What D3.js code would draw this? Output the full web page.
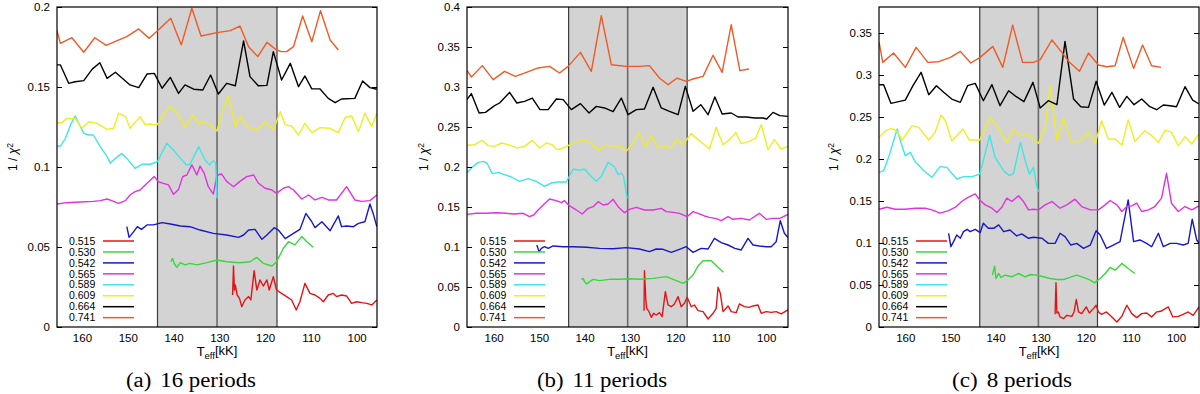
<!DOCTYPE html>
<html>
<head>
<meta charset="utf-8" />
<title>1/chi2 versus Teff</title>
<script src="https://d3js.org/d3.v7.min.js"></script>
<style>
    body {
        margin: 0;
        background-color: #ffffff;
    }

    text {
        font-family: "Liberation Sans", Arial, Helvetica, sans-serif;
        fill: #000;
    }

    .caption {
        font-family: "Liberation Serif", "Times New Roman", serif;
        font-size: 20.5px;
    }

    .tick line {
        stroke: #000;
        shape-rendering: crispEdges;
    }

    .axis path {
        display: none;
    }
</style>
</head>

<body>
<svg id="chart" width="1200" height="394"></svg>

<script>
    // legend labels (stellar masses) and line colours
    var masses = ["0.515", "0.530", "0.542", "0.565", "0.589", "0.609", "0.664", "0.741"];
    var colors = ["#e41414", "#38d838", "#1818c8", "#e032e0", "#3ee6e6", "#eeee22", "#000000", "#f05a24"];

    var xTicks = [160, 150, 140, 130, 120, 110, 100];
    var yTicksA = [0, 0.05, 0.1, 0.15, 0.2];
    var yTicksB = [0, 0.05, 0.1, 0.15, 0.2, 0.25, 0.3, 0.35, 0.4];
    var yTicksC = [0, 0.05, 0.1, 0.15, 0.2, 0.25, 0.3, 0.35];

    // shaded Teff window and the line inside it
    var band = [143.5, 117.4];
    var midLine = 130.5;

    // ---- (a) 16 periods : [Teff kK, 1/chi2]
    var a515 = [[127.1,.0200],[126.9,.0381],[126.7,.0231],[126.5,.0263],[126.1,.0200],[125.6,.0179],[125.1,.0127],[124.4,.0169],[123.6,.0190],[123.1,.0169],[122.4,.0352],[121.8,.0231],[121.1,.0294],[120.4,.0256],[119.6,.0294],[119.1,.0231],[118.2,.0315],[117.5,.0231],[116.4,.0210],[115.3,.0190],[114.2,.0169],[113.2,.0106],[112.4,.0158],[111.3,.0273],[110.2,.0210],[109.1,.0200],[108.0,.0179],[107.3,.0158],[106.2,.0200],[105.1,.0210],[104.4,.0190],[103.3,.0200],[102.2,.0194],[101.1,.0148],[100.0,.0158],[98.9,.0152],[97.8,.0148],[96.7,.0138],[95.6,.0169]];
    var a530 = [[140.6,.0408],[140.2,.0429],[139.8,.0394],[139.3,.0373],[138.5,.0402],[137.5,.0388],[136.4,.0398],[134.9,.0388],[132.7,.0402],[130.5,.0419],[128.4,.0408],[125.5,.0402],[123.3,.0408],[121.8,.0435],[120.4,.0398],[118.5,.0381],[117.5,.0408],[116.0,.0492],[114.9,.0533],[113.5,.0513],[112.0,.0565],[110.9,.0533],[109.5,.0498]];
    var a542 = [[150.2,.0627],[149.7,.0560],[148.7,.0596],[147.9,.0627],[147.0,.0610],[145.8,.0638],[144.4,.0638],[142.5,.0652],[140.7,.0644],[138.5,.0631],[136.4,.0627],[134.2,.0606],[131.3,.0585],[128.4,.0575],[125.8,.0560],[124.7,.0575],[123.6,.0606],[122.2,.0610],[120.7,.0548],[119.6,.0575],[118.0,.0621],[117.1,.0606],[115.6,.0552],[113.8,.0585],[112.4,.0610],[111.1,.0710],[109.8,.0658],[109.1,.0621],[107.6,.0658],[105.8,.0602],[104.0,.0694],[103.3,.0627],[102.2,.0631],[100.7,.0627],[99.6,.0648],[98.2,.0658],[97.1,.0769],[96.4,.0710],[95.6,.0627]];
    var a565 = [[165.5,.0769],[163.3,.0777],[160.4,.0781],[157.5,.0785],[156.0,.0790],[154.5,.0800],[153.5,.0790],[152.0,.0773],[150.5,.0790],[149.5,.0825],[148.4,.0846],[147.3,.0856],[145.8,.0898],[144.2,.0940],[143.3,.0908],[142.2,.0898],[141.1,.0888],[140.0,.0829],[138.9,.0860],[138.0,.0940],[137.1,.0950],[136.0,.1013],[134.9,.0950],[134.2,.1006],[133.3,.0960],[132.4,.0877],[131.3,.0830],[130.5,.0950],[129.5,.0956],[128.4,.0910],[126.9,.0877],[125.5,.0910],[124.0,.0940],[122.5,.0950],[121.5,.0900],[120.0,.0867],[118.5,.0856],[117.5,.0835],[116.0,.0867],[114.9,.0877],[113.8,.0856],[112.0,.0800],[110.5,.0825],[109.1,.0794],[107.6,.0810],[106.2,.0794],[104.4,.0794],[102.2,.0877],[100.4,.0794],[98.9,.0785],[97.1,.0790],[95.6,.0825]];
    var a589 = [[165.5,.1131],[164.7,.1131],[163.6,.1179],[162.5,.1263],[161.5,.1319],[159.6,.1210],[158.5,.1200],[157.5,.1200],[156.0,.1127],[154.5,.1065],[153.8,.1023],[152.7,.1054],[151.3,.1085],[150.2,.1054],[148.4,.0992],[146.9,.1017],[145.1,.1017],[143.5,.1033],[141.5,.1148],[140.0,.1106],[138.5,.1054],[137.2,.1013],[136.4,.1017],[134.5,.1127],[133.1,.1044],[132.1,.1013],[131.3,.1040],[130.8,.1023],[130.5,.0804]];
    var a609 = [[165.5,.1277],[164.4,.1277],[163.3,.1304],[161.5,.1304],[160.0,.1242],[158.5,.1283],[156.7,.1273],[154.5,.1235],[153.1,.1242],[152.0,.1336],[150.5,.1315],[149.5,.1242],[148.4,.1279],[147.3,.1315],[146.2,.1263],[145.1,.1269],[143.6,.1263],[142.2,.1325],[140.9,.1377],[139.3,.1346],[137.5,.1246],[135.8,.1325],[134.5,.1269],[133.5,.1283],[132.0,.1263],[130.5,.1225],[129.5,.1336],[128.0,.1444],[126.5,.1252],[125.5,.1319],[124.0,.1252],[121.8,.1231],[120.0,.1283],[118.2,.1231],[116.7,.1346],[115.6,.1263],[114.2,.1256],[112.7,.1200],[111.3,.1273],[109.8,.1215],[108.0,.1246],[105.8,.1242],[104.0,.1215],[102.5,.1311],[101.1,.1319],[99.6,.1221],[98.2,.1336],[96.7,.1252],[95.6,.1336]];
    var a664 = [[165.5,.1638],[164.7,.1638],[162.9,.1523],[161.5,.1533],[159.6,.1540],[157.8,.1610],[156.1,.1652],[154.5,.1554],[152.7,.1592],[149.5,.1513],[147.6,.1496],[145.8,.1581],[144.2,.1585],[142.5,.1492],[140.7,.1560],[138.9,.1460],[137.5,.1513],[135.6,.1486],[133.6,.1481],[131.9,.1575],[130.2,.1456],[128.4,.1523],[126.5,.1508],[124.7,.1788],[123.3,.1565],[121.5,.1508],[119.6,.1510],[118.2,.1721],[116.4,.1544],[114.5,.1648],[112.7,.1502],[111.3,.1569],[109.8,.1488],[108.0,.1488],[106.2,.1429],[104.7,.1402],[103.3,.1425],[100.4,.1429],[98.7,.1538],[97.1,.1496],[95.6,.1486]];
    var a741 = [[165.5,.1856],[164.7,.1773],[162.2,.1808],[159.6,.1717],[157.2,.1808],[154.7,.1760],[152.7,.1785],[150.2,.1815],[147.6,.1863],[145.3,.1804],[143.5,.1852],[140.6,.1929],[138.3,.1763],[136.0,.1992],[134.0,.1819],[130.5,.1840],[127.6,.1852],[125.5,.1881],[123.6,.1752],[121.6,.1690],[119.6,.1779],[117.5,.1731],[116.4,.1721],[115.3,.1721],[113.8,.1752],[111.8,.1944],[109.8,.1783],[107.9,.1977],[105.8,.1794],[104.0,.1731]];

    // ---- (b) 11 periods
    var b515 = [[126.9,.0204],[126.8,.0704],[126.5,.0338],[126.3,.0233],[125.8,.0192],[125.3,.0121],[124.8,.0171],[124.2,.0150],[123.5,.0179],[122.9,.0129],[122.2,.0442],[121.6,.0275],[120.9,.0254],[120.2,.0288],[119.4,.0379],[118.7,.0254],[118.0,.0296],[117.4,.0371],[116.5,.0254],[115.8,.0275],[115.0,.0204],[113.9,.0192],[112.8,.0100],[111.7,.0171],[111.0,.0233],[110.6,.0496],[110.1,.0421],[109.5,.0192],[108.4,.0263],[107.7,.0192],[106.6,.0179],[105.9,.0288],[104.8,.0254],[103.8,.0246],[102.9,.0263],[101.8,.0275],[101.1,.0171],[100.0,.0192],[98.9,.0183],[97.8,.0192],[96.7,.0163],[95.2,.0213]];
    var b530 = [[140.7,.0596],[140.3,.0608],[140.0,.0567],[139.5,.0538],[138.9,.0567],[138.1,.0596],[136.7,.0579],[134.5,.0596],[132.3,.0596],[130.1,.0604],[127.9,.0596],[124.9,.0608],[122.0,.0629],[119.8,.0579],[118.3,.0546],[117.2,.0588],[116.1,.0650],[115.0,.0763],[113.9,.0829],[112.1,.0829],[110.6,.0746],[109.4,.0683]];
    var b542 = [[150.5,.1025],[150.0,.0942],[149.5,.0983],[148.8,.1004],[148.0,.0983],[146.9,.1013],[144.7,.1004],[142.5,.1004],[139.6,.0996],[136.7,.0983],[133.7,.0979],[130.8,.0992],[127.9,.0975],[125.7,.0942],[124.2,.0975],[122.7,.0971],[120.9,.0933],[119.1,.0971],[117.6,.1004],[116.1,.0933],[114.3,.0983],[112.8,.0975],[111.4,.1108],[109.9,.1054],[108.4,.1025],[106.9,.0983],[105.5,.0963],[104.0,.1108],[102.9,.1025],[101.5,.1013],[100.0,.1004],[98.9,.1004],[97.8,.1067],[96.9,.1329],[96.0,.1171],[95.2,.1117]];
    var b565 = [[165.9,.1408],[163.8,.1421],[161.6,.1421],[159.4,.1429],[157.2,.1421],[155.4,.1413],[153.5,.1421],[152.1,.1379],[151.2,.1400],[150.2,.1463],[149.1,.1525],[147.7,.1600],[146.2,.1579],[145.1,.1554],[144.4,.1579],[143.3,.1513],[141.8,.1463],[140.5,.1413],[139.2,.1483],[138.1,.1504],[137.0,.1567],[135.9,.1525],[134.8,.1538],[133.7,.1596],[132.6,.1504],[131.2,.1429],[130.1,.1471],[128.6,.1496],[126.8,.1463],[124.9,.1463],[123.1,.1483],[122.0,.1442],[120.5,.1433],[119.1,.1421],[117.4,.1379],[116.1,.1442],[115.0,.1421],[113.6,.1388],[112.5,.1371],[111.0,.1354],[109.9,.1329],[108.4,.1379],[107.3,.1346],[105.5,.1358],[103.7,.1338],[101.5,.1421],[100.0,.1346],[98.5,.1358],[97.0,.1358],[95.2,.1408]];
    var b589 = [[165.9,.1925],[164.5,.2008],[163.4,.2058],[162.3,.2071],[161.5,.2050],[160.3,.1917],[159.0,.1933],[157.6,.1904],[156.1,.1875],[154.3,.1821],[152.4,.1854],[150.6,.1821],[148.8,.1758],[147.3,.1800],[145.8,.1813],[144.0,.1813],[142.5,.1975],[141.1,.1958],[140.0,.1975],[138.9,.1904],[137.4,.1821],[136.3,.1883],[134.8,.2058],[133.4,.2000],[132.6,.1904],[131.9,.1925],[131.4,.1880],[130.6,.1608]];
    var b609 = [[165.9,.2271],[164.2,.2279],[162.5,.2333],[161.2,.2267],[159.8,.2258],[158.3,.2300],[156.8,.2279],[154.9,.2238],[153.2,.2258],[151.5,.2333],[149.9,.2238],[148.4,.2300],[147.1,.2279],[146.1,.2217],[144.7,.2238],[143.6,.2267],[142.2,.2308],[140.3,.2342],[138.5,.2300],[137.0,.2208],[135.9,.2258],[134.5,.2267],[132.3,.2258],[130.8,.2196],[129.3,.2300],[128.0,.2425],[126.5,.2258],[125.3,.2392],[123.8,.2238],[122.1,.2258],[120.9,.2238],[119.6,.2350],[118.3,.2279],[117.4,.2350],[116.5,.2417],[115.0,.2342],[113.6,.2279],[112.5,.2225],[111.0,.2496],[109.5,.2279],[108.1,.2342],[106.7,.2433],[105.5,.2292],[103.7,.2321],[102.3,.2363],[101.1,.2529],[99.6,.2217],[98.2,.2342],[96.7,.2225],[95.2,.2258]];
    var b664 = [[165.9,.2842],[164.9,.2917],[163.2,.2675],[161.8,.2683],[159.8,.2767],[158.7,.2800],[156.5,.2933],[154.9,.2800],[153.2,.2821],[151.5,.2862],[149.8,.2717],[148.0,.2717],[146.2,.2850],[144.7,.2842],[142.9,.2717],[140.9,.2792],[139.0,.2675],[137.4,.2758],[135.6,.2738],[133.7,.2692],[131.9,.2862],[130.4,.2654],[128.6,.2717],[126.8,.2725],[124.9,.2996],[123.1,.2738],[121.3,.2696],[119.4,.2654],[117.8,.3008],[116.1,.2696],[114.4,.2779],[112.8,.2654],[111.3,.2875],[109.7,.2663],[107.7,.2675],[106.2,.2625],[104.4,.2625],[102.5,.2613],[100.7,.2613],[99.9,.2600],[98.5,.2683],[97.0,.2642],[95.2,.2633]];
    var b741 = [[165.9,.3208],[164.9,.3125],[162.5,.3267],[160.1,.3092],[157.6,.3196],[155.2,.3133],[152.8,.3183],[150.2,.3238],[147.7,.3258],[145.5,.3175],[143.6,.3258],[140.9,.3433],[138.5,.3196],[136.3,.3892],[134.1,.3279],[130.8,.3258],[127.9,.3258],[125.7,.3267],[123.5,.3112],[121.6,.3029],[119.6,.3112],[117.6,.3071],[116.1,.3100],[113.9,.3133],[111.7,.3396],[109.7,.3183],[107.7,.3779],[105.8,.3204],[103.8,.3225]];

    // ---- (c) 8 periods
    var c515 = [[126.8,.0151],[126.6,.0526],[126.4,.0167],[126.1,.0179],[125.7,.0120],[124.9,.0100],[124.2,.0139],[123.1,.0127],[122.6,.0179],[122.1,.0327],[121.6,.0179],[120.9,.0159],[119.9,.0239],[119.2,.0167],[118.3,.0219],[117.7,.0259],[117.2,.0179],[116.5,.0151],[115.4,.0179],[114.2,.0120],[113.1,.0060],[112.0,.0127],[110.9,.0259],[109.8,.0159],[108.7,.0112],[107.6,.0159],[106.5,.0167],[105.4,.0120],[104.3,.0179],[103.2,.0191],[101.7,.0239],[100.7,.0120],[99.5,.0127],[98.4,.0151],[97.3,.0179],[96.2,.0139],[94.9,.0239]];
    var c530 = [[140.7,.0618],[140.2,.0725],[139.9,.0578],[139.3,.0637],[138.8,.0590],[137.9,.0618],[136.4,.0598],[134.9,.0637],[133.4,.0598],[132.3,.0625],[130.9,.0618],[129.4,.0598],[127.9,.0578],[126.4,.0566],[124.9,.0566],[123.5,.0590],[122.0,.0618],[120.5,.0590],[119.0,.0558],[118.1,.0526],[116.8,.0578],[115.7,.0637],[114.6,.0709],[113.5,.0677],[112.0,.0757],[110.6,.0697],[109.1,.0637]];
    var c542 = [[150.4,.1116],[149.9,.0956],[149.3,.1016],[148.6,.1096],[147.8,.1056],[147.1,.1135],[146.3,.1163],[145.6,.1135],[144.5,.1163],[143.4,.1124],[142.7,.1235],[141.6,.1175],[140.4,.1175],[139.3,.1215],[138.2,.1135],[136.8,.1155],[135.3,.1084],[134.2,.1108],[132.7,.1056],[131.6,.1068],[129.7,.1056],[128.3,.0996],[126.8,.0996],[125.7,.1116],[124.6,.1076],[123.3,.0976],[122.0,.0996],[120.5,.0936],[119.0,.0976],[117.7,.1147],[116.8,.1096],[115.4,.0936],[113.9,.0976],[112.4,.1016],[110.6,.1514],[109.4,.1016],[108.0,.1036],[106.5,.0996],[105.4,.0956],[103.9,.1116],[102.8,.0956],[101.3,.0996],[99.9,.0996],[98.4,.0976],[97.3,.0996],[96.4,.1283],[95.4,.1036],[94.9,.0996]];
    var c565 = [[165.8,.1402],[164.1,.1426],[162.2,.1402],[160.0,.1402],[157.8,.1414],[155.6,.1414],[154.1,.1394],[152.3,.1355],[150.4,.1386],[148.9,.1426],[147.5,.1494],[146.0,.1546],[144.5,.1586],[143.4,.1506],[142.3,.1454],[140.8,.1414],[139.7,.1363],[138.6,.1426],[137.5,.1534],[136.4,.1494],[134.9,.1562],[133.8,.1494],[132.7,.1394],[131.6,.1402],[130.5,.1394],[129.0,.1454],[127.5,.1494],[125.7,.1414],[124.2,.1454],[122.4,.1522],[120.9,.1434],[119.0,.1394],[117.2,.1394],[115.7,.1454],[114.6,.1506],[113.1,.1454],[112.0,.1375],[110.9,.1434],[109.8,.1442],[108.7,.1474],[107.6,.1375],[106.1,.1394],[104.7,.1434],[103.2,.1534],[102.1,.1830],[101.0,.1474],[99.5,.1375],[98.0,.1434],[96.5,.1394],[94.9,.1442]];
    var c589 = [[165.8,.1841],[164.8,.1861],[163.7,.2020],[161.8,.2357],[161.1,.2218],[160.0,.2040],[158.9,.2079],[157.8,.1968],[155.9,.1861],[154.1,.1782],[152.3,.1909],[150.8,.1901],[148.6,.1762],[147.1,.1790],[145.2,.1790],[143.5,.1821],[142.7,.1980],[141.3,.2278],[140.1,.2020],[138.2,.1861],[136.9,.1802],[136.0,.1829],[134.5,.2198],[133.4,.1980],[132.5,.1821],[131.6,.1901],[130.9,.1683],[130.5,.1610]];
    var c609 = [[165.8,.2258],[164.4,.2337],[163.0,.2365],[161.8,.2329],[160.7,.2226],[158.5,.2397],[157.0,.2377],[154.8,.2226],[153.4,.2317],[152.1,.2524],[151.1,.2456],[149.7,.2218],[148.6,.2278],[147.2,.2357],[145.8,.2226],[143.5,.2226],[141.2,.2496],[139.6,.2385],[137.5,.2198],[136.0,.2357],[134.5,.2278],[133.1,.2298],[131.6,.2238],[130.5,.2187],[129.0,.2377],[127.9,.2873],[126.4,.2226],[124.9,.2488],[123.1,.2198],[121.1,.2218],[119.4,.2317],[117.9,.2187],[116.5,.2456],[115.0,.2238],[113.5,.2238],[112.0,.2167],[110.6,.2464],[109.1,.2210],[106.9,.2337],[105.4,.2278],[103.9,.2198],[102.4,.2345],[101.0,.2317],[99.5,.2159],[98.0,.2266],[96.5,.2179],[94.9,.2298]];
    var c664 = [[165.8,.2885],[164.8,.2885],[163.2,.2663],[160.0,.2702],[158.3,.2873],[156.5,.3032],[154.8,.2766],[153.1,.2873],[151.5,.2794],[149.7,.2714],[147.8,.2675],[146.2,.2873],[144.5,.2901],[142.7,.2694],[140.8,.2885],[139.0,.2635],[137.1,.2813],[135.4,.2742],[133.7,.2683],[131.7,.2913],[130.1,.2607],[128.3,.2694],[126.4,.2647],[124.6,.3401],[122.7,.2714],[121.1,.2623],[119.4,.2615],[117.7,.2925],[115.9,.2643],[114.2,.2794],[112.5,.2615],[110.9,.2746],[109.3,.2647],[107.6,.2714],[105.8,.2623],[104.3,.2587],[102.8,.2643],[101.3,.2635],[99.9,.2623],[98.0,.2861],[96.3,.2702],[94.9,.2655]];
    var c741 = [[165.8,.3389],[165.0,.3151],[162.6,.3262],[160.0,.3091],[157.6,.3329],[155.0,.3151],[152.6,.3159],[150.0,.3210],[147.8,.3282],[145.5,.3143],[143.4,.3210],[140.6,.3341],[138.4,.3091],[136.2,.3595],[134.0,.3151],[131.6,.3151],[130.1,.3183],[127.5,.3417],[125.3,.3270],[123.6,.3151],[121.4,.3044],[119.4,.3262],[117.2,.3119],[115.4,.3099],[113.5,.3111],[111.7,.3448],[109.4,.3079],[107.4,.3357],[105.4,.3111],[103.3,.3091]];

    var panels = [
        {
            caption: "(a)", periods: "16 periods", series: [a515, a530, a542, a565, a589, a609, a664, a741],
            left: 57, right: 377, top: 7, bottom: 327, xDomain: [165.45, 95.56], yMax: 0.2, yTicks: yTicksA,
            legendX: 12, yLabelX: 17, captionX: 126
        },
        {
            caption: "(b)", periods: "11 periods", series: [b515, b530, b542, b565, b589, b609, b664, b741],
            left: 467, right: 788, top: 7, bottom: 327, xDomain: [165.87, 95.2], yMax: 0.4, yTicks: yTicksB,
            legendX: 13, yLabelX: 428, captionX: 537
        },
        {
            caption: "(c)", periods: "8 periods", series: [c515, c530, c542, c565, c589, c609, c664, c741],
            left: 879, right: 1199, top: 7, bottom: 327, xDomain: [165.83, 94.9], yMax: 0.381, yTicks: yTicksC,
            legendX: 3, yLabelX: 838, captionX: 952
        }
    ];

    var svg = d3.select("#chart");

    panels.forEach(function(p, pi) {
        var x = d3.scaleLinear().domain(p.xDomain).range([p.left, p.right]);
        var y = d3.scaleLinear().domain([0, p.yMax]).range([p.bottom, p.top]);

        var g = svg.append("g");

        g.append("clipPath")
            .attr("id", "clip" + pi)
            .append("rect")
            .attr("x", p.left)
            .attr("y", p.top)
            .attr("width", p.right - p.left)
            .attr("height", p.bottom - p.top);

        // shaded window
        g.append("rect")
            .attr("x", x(band[0]))
            .attr("y", p.top)
            .attr("width", x(band[1]) - x(band[0]))
            .attr("height", p.bottom - p.top)
            .attr("fill", "#d3d3d3");

        g.selectAll(".edge")
            .data(band)
            .enter().append("line")
            .attr("x1", function(d) { return x(d); })
            .attr("x2", function(d) { return x(d); })
            .attr("y1", p.top)
            .attr("y2", p.bottom)
            .attr("stroke", "#3c3c3c")
            .attr("stroke-width", 1.2);

        g.append("line")
            .attr("x1", x(midLine))
            .attr("x2", x(midLine))
            .attr("y1", p.top)
            .attr("y2", p.bottom)
            .attr("stroke", "#6c6c6c")
            .attr("stroke-width", 1.6);

        // curves
        var line = d3.line()
            .x(function(d) { return x(d[0]); })
            .y(function(d) { return y(d[1]); });

        g.append("g")
            .attr("clip-path", "url(#clip" + pi + ")")
            .selectAll("path")
            .data(p.series)
            .enter().append("path")
            .attr("d", line)
            .attr("fill", "none")
            .attr("stroke", function(d, i) { return colors[i]; })
            .attr("stroke-width", 1.4)
            .attr("stroke-linejoin", "round");

        // axes
        g.append("g")
            .attr("class", "axis")
            .attr("transform", "translate(" + p.left + ",0)")
            .call(d3.axisLeft(y).tickValues(p.yTicks).tickSize(-5).tickPadding(7)
                .tickFormat(function(d) { return String(d); }))
            .selectAll("text")
            .attr("font-size", "11.5px");

        g.append("g")
            .attr("class", "axis")
            .attr("transform", "translate(" + p.right + ",0)")
            .call(d3.axisRight(y).tickValues(p.yTicks).tickSize(-5).tickFormat(""));

        g.append("g")
            .attr("class", "axis")
            .attr("transform", "translate(0," + p.bottom + ")")
            .call(d3.axisBottom(x).tickValues(xTicks).tickSize(0).tickPadding(7))
            .selectAll("text")
            .attr("font-size", "11.5px");

        g.append("rect")
            .attr("x", p.left)
            .attr("y", p.top)
            .attr("width", p.right - p.left)
            .attr("height", p.bottom - p.top)
            .attr("fill", "none")
            .attr("stroke", "#000")
            .attr("stroke-width", 1.2);

        // legend
        var leg = g.selectAll(".leg")
            .data(masses)
            .enter().append("g")
            .attr("transform", function(d, i) {
                return "translate(" + (p.left + p.legendX) + "," + (241 + i * 10.95) + ")";
            });

        leg.append("text")
            .attr("dy", "0.35em")
            .attr("font-size", "10.5px")
            .text(function(d) { return d; });

        leg.append("line")
            .attr("x1", 34)
            .attr("x2", 65)
            .attr("stroke", function(d, i) { return colors[i]; })
            .attr("stroke-width", 1.5);

        // axis titles
        var yl = g.append("text")
            .attr("transform", "translate(" + p.yLabelX + "," + ((p.top + p.bottom) / 2 - 10) + ") rotate(-90)")
            .attr("text-anchor", "middle")
            .attr("font-size", "12px");
        yl.append("tspan").text("1 / ");
        yl.append("tspan").attr("font-style", "italic").text("χ");
        yl.append("tspan").attr("dy", "-0.45em").attr("font-size", "8.5px").text("2");

        var xl = g.append("text")
            .attr("x", (p.left + p.right) / 2)
            .attr("y", 356)
            .attr("text-anchor", "middle")
            .attr("font-size", "13px");
        xl.append("tspan").text("T");
        xl.append("tspan").attr("dy", "0.3em").attr("font-size", "9.5px").text("eff");
        xl.append("tspan").attr("dy", "-0.3em").text("[kK]");

        // sub-figure caption, stretched to the width it has in the figure
        var cap = g.append("text")
            .attr("class", "caption")
            .attr("x", p.captionX)
            .attr("y", 387)
            .attr("textLength", pi === 2 ? 120 : 130)
            .attr("lengthAdjust", "spacingAndGlyphs");
        cap.append("tspan").text(p.caption);
        cap.append("tspan").attr("dx", 8).text(p.periods);
    });
</script>
</body>
</html>
